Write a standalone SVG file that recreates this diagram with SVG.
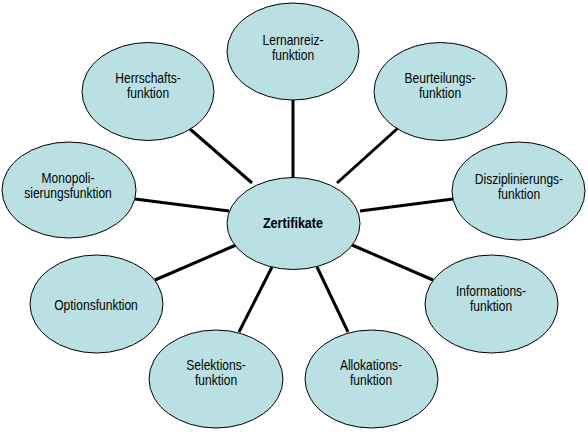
<svg xmlns="http://www.w3.org/2000/svg" width="588" height="440" viewBox="0 0 588 440">
<style>
.n{fill:#BBE0E3;stroke:#000;stroke-width:1}
.c line{stroke:#000;stroke-width:3}
text{font-family:"Liberation Sans",Arial,sans-serif;font-size:14px;fill:#000;text-anchor:middle}
.b{font-weight:bold}
</style>
<rect width="588" height="440" fill="#fff"/>
<g class="c" id="connectors">
<line x1="293" y1="98" x2="293" y2="178"/>
<line x1="190" y1="129" x2="252" y2="183"/>
<line x1="398" y1="128" x2="337" y2="183"/>
<line x1="135" y1="199" x2="229" y2="211"/>
<line x1="453" y1="199" x2="360" y2="211"/>
<line x1="155" y1="280" x2="236" y2="245"/>
<line x1="433" y1="280" x2="352" y2="245"/>
<line x1="239" y1="332" x2="272" y2="267"/>
<line x1="348" y1="332" x2="317" y2="267"/>
</g>
<g id="n-lernanreiz"><ellipse class="n" cx="293" cy="51.5" rx="66" ry="48.5"/><g transform="translate(293 0) scale(0.86 1)"><text y="45.5">Lernanreiz-</text><text y="60.5">funktion</text></g></g>
<g id="n-herrschaft"><ellipse class="n" cx="148" cy="91.5" rx="66" ry="49"/><g transform="translate(148 0) scale(0.86 1)"><text y="83.5">Herrschafts-</text><text y="98.5">funktion</text></g></g>
<g id="n-beurteilung"><ellipse class="n" cx="440.5" cy="91.5" rx="66.5" ry="49"/><g transform="translate(440 0) scale(0.86 1)"><text y="83">Beurteilungs-</text><text y="98">funktion</text></g></g>
<g id="n-monopol"><ellipse class="n" cx="69" cy="190" rx="67" ry="48"/><g transform="translate(68 0) scale(0.86 1)"><text y="183">Monopoli-</text><text y="198">sierungsfunktion</text></g></g>
<g id="n-disziplin"><ellipse class="n" cx="518.5" cy="191" rx="66.5" ry="49"/><g transform="translate(519 0) scale(0.86 1)"><text y="184">Disziplinierungs-</text><text y="199.5">funktion</text></g></g>
<g id="n-zertifikate"><ellipse class="n" cx="293.5" cy="223.5" rx="66.5" ry="46"/><g transform="translate(293 0) scale(0.9 1)"><text class="b" y="228.5">Zertifikate</text></g></g>
<g id="n-option"><ellipse class="n" cx="96.5" cy="304" rx="66.5" ry="49"/><g transform="translate(96 0) scale(0.86 1)"><text y="310.5">Optionsfunktion</text></g></g>
<g id="n-information"><ellipse class="n" cx="491.5" cy="304" rx="66.5" ry="49"/><g transform="translate(491 0) scale(0.86 1)"><text y="296.5">Informations-</text><text y="311.5">funktion</text></g></g>
<g id="n-selektion"><ellipse class="n" cx="216" cy="379" rx="67" ry="49"/><g transform="translate(216 0) scale(0.86 1)"><text y="370.5">Selektions-</text><text y="385.5">funktion</text></g></g>
<g id="n-allokation"><ellipse class="n" cx="371.5" cy="379" rx="66.5" ry="49"/><g transform="translate(371 0) scale(0.86 1)"><text y="370.5">Allokations-</text><text y="385.5">funktion</text></g></g>
</svg>
